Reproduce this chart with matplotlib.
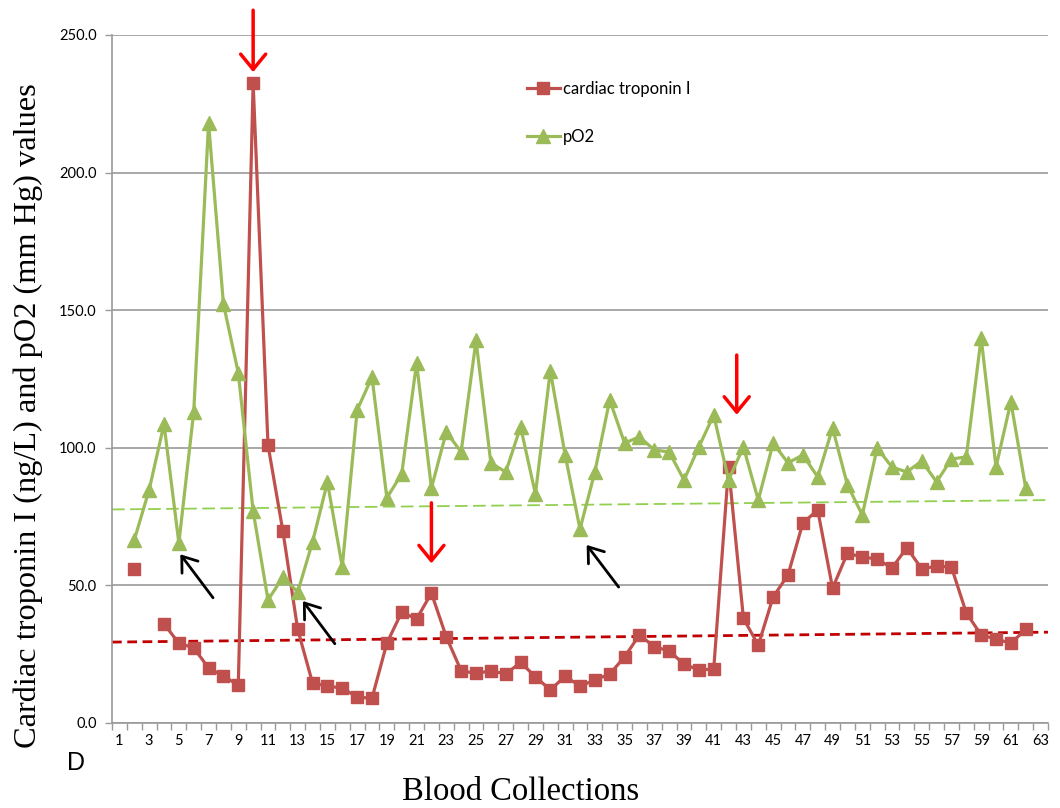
import numpy as np
import matplotlib
matplotlib.use("Agg")
import matplotlib.pyplot as plt
from matplotlib.ticker import FixedLocator, FormatStrFormatter

# blood collection number 1..63, None = no sample
collections = list(range(1, 64))

troponin = [None, 56, None, 36, 29, 27.3, 20, 17, 13.8, 232.5,
            101, 69.8, 34, 14.5, 13.4, 12.7, 9.4, 9, 29, 40.3,
            37.8, 47.2, 31.3, 19, 18, 19, 17.8, 22, 16.8, 12,
            17, 13.4, 15.6, 17.8, 24, 32, 27.7, 26.2, 21.4, 19.3,
            19.6, 93, 38, 28.3, 45.8, 53.8, 72.7, 77.4, 49, 61.7,
            60.3, 59.6, 56.3, 63.7, 56, 57, 56.7, 40, 32, 30.5,
            29, 34, None]

po2 = [None, 66.5, 84.7, 108.6, 65.4, 113, 218, 152.3, 127.2, 77,
       44.7, 53, 47.6, 65.8, 87.5, 56.7, 113.7, 125.7, 81.8, 90.5,
       130.8, 85.4, 105.7, 98.5, 139, 94.5, 91.2, 107.6, 83.2, 128,
       97.4, 70.5, 91.2, 117.4, 101.7, 104, 99.2, 98.5, 88.3, 100.3,
       111.9, 88.3, 100.3, 81, 101.7, 94.5, 97.4, 89.4, 107.2, 86.5,
       75.6, 99.9, 93, 91.2, 95.2, 87.6, 95.9, 96.7, 140, 93,
       116.7, 85.4, None]

# trend lines as drawn in the original (value at left and right edge)
trend_x = [0.5, 63.5]
trop_trend = [29.4, 33.0]
po2_trend = [77.6, 81.0]

# annotation arrows: (x, y_tail, y_head)
red_arrows = [(10, 259, 236.5), (22, 80, 58), (42.55, 133.7, 112)]
# (x_tail, y_tail, x_head, y_head)
black_arrows = [(7.3, 45.5, 5.1, 61.3), (15.5, 28.8, 13.35, 44.3), (34.6, 49.4, 32.45, 64.7)]

red = "#C0504D"
green = "#9BBB59"

x = np.array(collections, dtype=float)
trop = np.array([np.nan if v is None else v for v in troponin])
oxy = np.array([np.nan if v is None else v for v in po2])

fig = plt.figure(figsize=(10.6, 8.08), dpi=100)
ax = fig.add_axes([112 / 1060, 1 - 723 / 808, 936 / 1060, 688 / 808])

ax.set_ylim(0, 250)
ax.set_xlim(0.5, 63.5)
ax.yaxis.set_major_locator(FixedLocator([0, 50, 100, 150, 200, 250]))
ax.yaxis.set_major_formatter(FormatStrFormatter("%.1f"))
ax.grid(axis="y", color="#9a9a9a", linewidth=1.2)
ax.set_axisbelow(True)

ax.set_xticks(collections[::2])
ax.set_xticks(np.arange(0.5, 64, 1), minor=True)
ax.tick_params(axis="x", which="major", length=0, pad=8, labelsize=10.5)
ax.tick_params(axis="x", which="minor", length=5, color="#9a9a9a", width=1)
ax.tick_params(axis="y", length=5, color="#9a9a9a", width=1, labelsize=10.5, pad=6)
for lbl in ax.get_xticklabels() + ax.get_yticklabels():
    lbl.set_family("Lato")

for s in ["top", "right"]:
    ax.spines[s].set_visible(False)
for s in ["left", "bottom"]:
    ax.spines[s].set_color("#9a9a9a")
    ax.spines[s].set_linewidth(1.2)

ax.plot(trend_x, trop_trend, color="#C00000", linestyle=(0, (3.5, 2)), linewidth=2, zorder=2)
ax.plot(trend_x, po2_trend, color="#92D050", linestyle=(0, (7, 3)), linewidth=1.3, zorder=2)

ax.plot(x, trop, color=red, linewidth=2.3, marker="s", markersize=9,
        label="cardiac troponin I", zorder=3)
ax.plot(x, oxy, color=green, linewidth=2.3, marker="^", markersize=10,
        label="pO2", zorder=3)

for xa, yt, yh in red_arrows:
    ax.annotate("", xy=(xa, yh), xytext=(xa, yt), annotation_clip=False,
                arrowprops=dict(arrowstyle="->,head_length=0.55,head_width=0.45",
                                color="#FF0000", lw=2.5, mutation_scale=20,
                                shrinkA=0, shrinkB=0), zorder=5)
for xt, yt, xh, yh in black_arrows:
    ax.annotate("", xy=(xh, yh), xytext=(xt, yt),
                arrowprops=dict(arrowstyle="->,head_length=0.55,head_width=0.4",
                                color="black", lw=2, mutation_scale=18,
                                shrinkA=0, shrinkB=0), zorder=5)

leg = ax.legend(loc="upper left", bbox_to_anchor=(0.427, 0.955), frameon=False,
                handlelength=2.0, handletextpad=0.2, labelspacing=1.9,
                prop={"family": "Lato", "size": 12})

fig.text(28 / 1060, 1 - 416 / 808, "Cardiac troponin I (ng/L) and pO2 (mm Hg) values",
         rotation=90, ha="center", va="center", family="Liberation Serif", fontsize=23.3)
fig.text(521 / 1060, 1 - 792 / 808, "Blood Collections", ha="center", va="center",
         family="Liberation Serif", fontsize=23.5)
fig.text(76 / 1060, 1 - 763 / 808, "D", ha="center", va="center",
         family="Liberation Sans", fontsize=18)

fig.savefig("out.png", dpi=100)
